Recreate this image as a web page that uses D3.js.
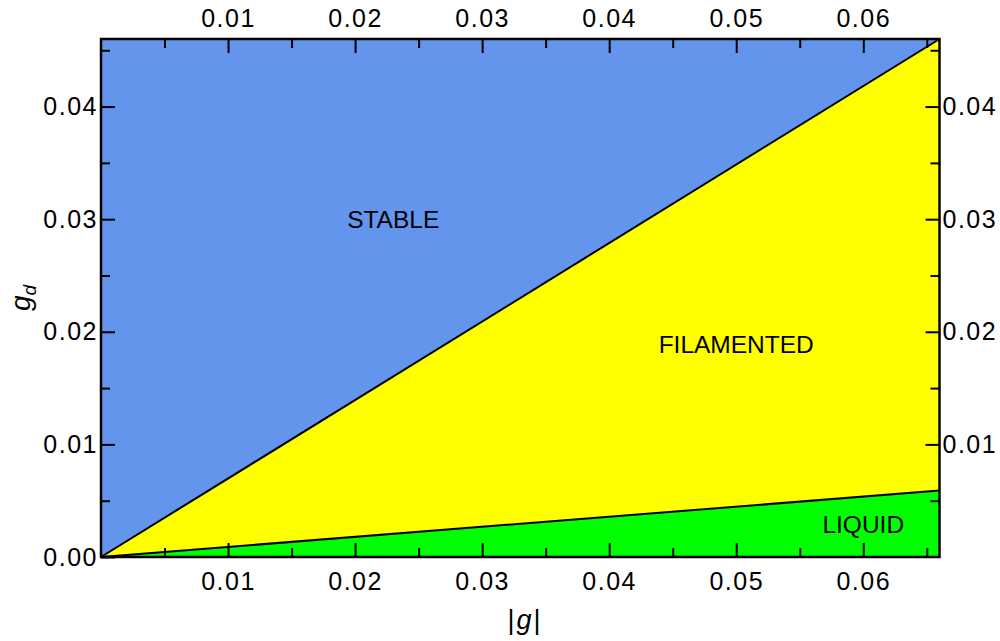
<!DOCTYPE html>
<html><head><meta charset="utf-8">
<script src="https://cdn.jsdelivr.net/npm/d3@7"></script>
<style>
html,body{margin:0;padding:0;background:#fff;}
svg{display:block;font-family:"Liberation Sans",Arial,Helvetica,sans-serif;}
</style></head>
<body><svg id="c" width="1000" height="641"></svg>
<script>
// ---- data ----
const xDomain = [0, 0.066];
const yDomain = [0, 0.046];
const xMajorTicks = [0.01, 0.02, 0.03, 0.04, 0.05, 0.06];
const xMinorTicks = [0.005, 0.015, 0.025, 0.035, 0.045, 0.055, 0.065];
const yMajorTicksLeft = [0.00, 0.01, 0.02, 0.03, 0.04];
const yMajorTicksRight = [0.01, 0.02, 0.03, 0.04];
const yMinorTicks = [0.005, 0.015, 0.025, 0.035, 0.045];
// phase boundaries (|g|, g_d)
const upperBoundary = [[0, 0], [0.066, 0.046]];
const lowerBoundary = [[0, 0], [0.066, 0.0059]];
const regionNames = ["STABLE", "FILAMENTED", "LIQUID"];
const regionLabelX = [0.0230, 0.0500, 0.0600];
const regionLabelY = [0.0292, 0.0181, 0.0021];

// ---- layout ----
const L = 101, R = 939.5, T = 39, B = 557;
const svg = d3.select("#c");
const x = d3.scaleLinear().domain(xDomain).range([L, R]);
const y = d3.scaleLinear().domain(yDomain).range([B, T]);

const colors = {STABLE: "#6495ED", FILAMENTED: "#FFFF00", LIQUID: "#00FF00"};
const line = d3.line().x(d => x(d[0])).y(d => y(d[1]));

// regions
const [x0, x1] = xDomain, [y0, y1] = yDomain;
const stablePoly = [[x0, y0], ...upperBoundary.slice(1), [x1, y1], [x0, y1]];
const filPoly = [...upperBoundary, ...lowerBoundary.slice().reverse()];
const liqPoly = [...lowerBoundary, [x1, y0]];
const polys = [stablePoly, filPoly, liqPoly];
svg.append("g").selectAll("path").data(polys).join("path")
  .attr("d", d => line(d) + "Z")
  .attr("fill", (d, i) => colors[regionNames[i]]);

// boundary lines
[upperBoundary, lowerBoundary].forEach(b => {
  svg.append("path").attr("d", line(b)).attr("fill", "none")
    .attr("stroke", "#000").attr("stroke-width", 2);
});

// region labels
svg.append("g").selectAll("text").data(regionNames).join("text")
  .attr("x", (d, i) => x(regionLabelX[i]))
  .attr("y", (d, i) => y(regionLabelY[i]))
  .attr("text-anchor", "middle")
  .attr("font-size", 24.5)
  .text(d => d);

// axes
const fmt = d3.format(".2f");
function styleAxis(g) {
  g.select(".domain").remove();
  g.selectAll(".tick line").attr("stroke", "#000").attr("stroke-width", 2);
  g.selectAll(".tick text").attr("font-size", 25).attr("fill", "#000")
    .attr("font-family", '"Liberation Sans",Arial,sans-serif').attr("letter-spacing", 1.5);
}
const maj = 14, mnr = 9;
svg.append("g").attr("transform", `translate(0,${B})`)
  .call(d3.axisBottom(x).tickValues(xMajorTicks).tickFormat(fmt).tickSize(-maj).tickPadding(15)).call(styleAxis);
svg.append("g").attr("transform", `translate(0,${B})`)
  .call(d3.axisBottom(x).tickValues(xMinorTicks).tickFormat("").tickSize(-mnr)).call(styleAxis);
svg.append("g").attr("transform", `translate(0,${T})`)
  .call(d3.axisTop(x).tickValues(xMajorTicks).tickFormat(fmt).tickSize(-maj).tickPadding(12)).call(styleAxis);
svg.append("g").attr("transform", `translate(0,${T})`)
  .call(d3.axisTop(x).tickValues(xMinorTicks).tickFormat("").tickSize(-mnr)).call(styleAxis);
svg.append("g").attr("transform", `translate(${L},0)`)
  .call(d3.axisLeft(y).tickValues(yMajorTicksLeft).tickFormat(fmt).tickSize(-maj).tickPadding(3)).call(styleAxis);
svg.append("g").attr("transform", `translate(${L},0)`)
  .call(d3.axisLeft(y).tickValues(yMinorTicks.filter(v => v < y1)).tickFormat("").tickSize(-mnr)).call(styleAxis);
svg.append("g").attr("transform", `translate(${R},0)`)
  .call(d3.axisRight(y).tickValues(yMajorTicksRight).tickFormat(fmt).tickSize(-maj).tickPadding(3)).call(styleAxis);
svg.append("g").attr("transform", `translate(${R},0)`)
  .call(d3.axisRight(y).tickValues(yMinorTicks.filter(v => v < y1)).tickFormat("").tickSize(-mnr)).call(styleAxis);

// frame
svg.append("rect").attr("x", L).attr("y", T).attr("width", R - L).attr("height", B - T)
  .attr("fill", "none").attr("stroke", "#000").attr("stroke-width", 2.5);

// axis titles
const xt = svg.append("text").attr("x", 525).attr("y", 629)
  .attr("text-anchor", "middle").attr("font-size", 27).attr("letter-spacing", 2);
xt.append("tspan").text("|");
xt.append("tspan").attr("font-style", "italic").text("g");
xt.append("tspan").text("|");

const yt = svg.append("text").attr("transform", `translate(30,${(T + B) / 2}) rotate(-90)`)
  .attr("text-anchor", "middle").attr("font-size", 28);
yt.append("tspan").attr("font-style", "italic").text("g");
yt.append("tspan").attr("font-style", "italic").attr("font-size", 19).attr("dy", 6).text("d");
</script></body></html>
